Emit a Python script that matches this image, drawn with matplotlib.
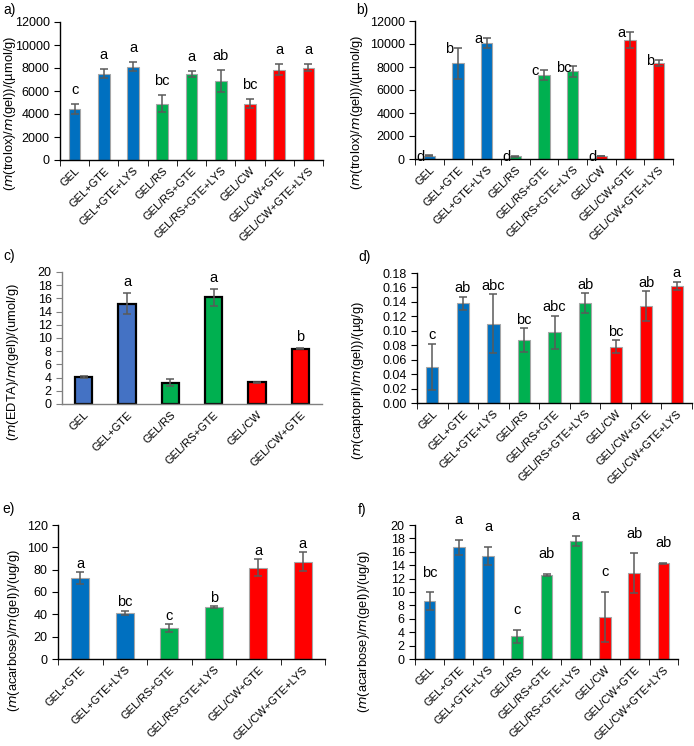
import matplotlib
matplotlib.use("Agg")
import matplotlib.pyplot as plt
from matplotlib.ticker import FormatStrFormatter

plt.rcParams["font.family"] = ["Liberation Sans", "DejaVu Sans"]

# --- Donnees ---
labels_9 = ["GEL", "GEL+GTE", "GEL+GTE+LYS", "GEL/RS", "GEL/RS+GTE",
            "GEL/RS+GTE+LYS", "GEL/CW", "GEL/CW+GTE", "GEL/CW+GTE+LYS"]
labels_6c = ["GEL", "GEL+GTE", "GEL/RS", "GEL/RS+GTE", "GEL/CW", "GEL/CW+GTE"]
labels_6e = ["GEL+GTE", "GEL+GTE+LYS", "GEL/RS+GTE", "GEL/RS+GTE+LYS",
             "GEL/CW+GTE", "GEL/CW+GTE+LYS"]

a_vals = [4420, 7510, 8120, 4910, 7490, 6880, 4880, 7860, 8030]
a_err = [430, 380, 400, 750, 260, 950, 400, 480, 290]
a_let = ["c", "a", "a", "bc", "a", "ab", "bc", "a", "a"]

b_vals = [280, 8310, 10100, 220, 7300, 7610, 260, 10330, 8360]
b_err = [40, 1350, 430, 30, 450, 460, 40, 720, 290]
b_let = ["d", "b", "a", "d", "c", "bc", "d", "a", "b"]

c_vals = [4.08, 15.2, 3.22, 16.17, 3.30, 8.36]
c_err = [0.12, 1.6, 0.5, 1.3, 0.1, 0.1]
c_let = ["", "a", "", "a", "", "b"]

d_vals = [0.050, 0.138, 0.110, 0.087, 0.098, 0.138, 0.078, 0.134, 0.162]
d_err = [0.032, 0.009, 0.041, 0.017, 0.023, 0.014, 0.009, 0.021, 0.006]
d_let = ["c", "ab", "abc", "bc", "abc", "ab", "bc", "ab", "a"]

e_vals = [72.4, 41.1, 27.7, 46.5, 81.9, 87.3]
e_err = [5.3, 2.1, 3.6, 0.8, 7.4, 8.6]
e_let = ["a", "bc", "c", "b", "a", "a"]

f_vals = [8.66, 16.67, 15.37, 3.38, 12.54, 17.6, 6.27, 12.79, 14.28]
f_err = [1.3, 1.1, 1.35, 1.0, 0.2, 0.8, 3.78, 3.0, 0.1]
f_let = ["bc", "a", "a", "c", "ab", "a", "c", "ab", "ab"]

BLUE, GREEN, RED = "#0070C0", "#00B050", "#FF0000"
colors_9 = [BLUE] * 3 + [GREEN] * 3 + [RED] * 3
colors_6e = [BLUE] * 2 + [GREEN] * 2 + [RED] * 2
colors_6c = ["#4472C4", "#4472C4", GREEN, GREEN, RED, RED]

W, H = 694, 746
fig = plt.figure(figsize=(W / 100, H / 100), dpi=100)


def add_axes(left, right, top, bottom):
    return fig.add_axes([left / W, 1 - bottom / H, (right - left) / W, (bottom - top) / H])


def panel(ax, labels, vals, err, letters, colors, ymax, ystep, ylabel, tag, tag_xy,
          ylab_xy, fmt=None, edge="#A6A6A6", edge_lw=0.8, letter_dx=0.0,
          letter_pad=3, xticks=True, spine_col="#000000"):
    n = len(labels)
    x = list(range(n))
    ax.bar(x, vals, width=0.4, color=colors, edgecolor=edge, linewidth=edge_lw, zorder=2)
    ax.errorbar(x, vals, yerr=err, fmt="none", ecolor="#5A5A5A", elinewidth=1.1,
                capsize=3, capthick=1.1, zorder=3)
    for xi, v, e, t in zip(x, vals, err, letters):
        if t:
            ax.annotate(t, (xi + letter_dx, v + e), xytext=(0, letter_pad),
                        textcoords="offset points", ha="center", va="bottom", fontsize=10.5)
    ax.set_xlim(-0.5, n - 0.5)
    ax.set_ylim(0, ymax)
    ax.set_yticks([i * ystep for i in range(int(round(ymax / ystep)) + 1)])
    if fmt:
        ax.yaxis.set_major_formatter(FormatStrFormatter(fmt))
    ax.set_xticks(x)
    ax.set_xticklabels(labels, rotation=45, ha="right", rotation_mode="anchor", fontsize=8)
    ax.tick_params(axis="x", length=0, pad=4)
    if xticks:
        ax.set_xticks([i - 0.5 for i in range(n + 1)], minor=True)
        ax.tick_params(axis="x", which="minor", length=4, direction="out", color=spine_col)
    ax.tick_params(axis="y", labelsize=9, length=4, direction="out", color=spine_col)
    for s in ["top", "right"]:
        ax.spines[s].set_visible(False)
    for s in ["left", "bottom"]:
        ax.spines[s].set_color(spine_col)
        ax.spines[s].set_linewidth(1.0)
    fig.text(ylab_xy[0] / W, 1 - ylab_xy[1] / H, ylabel, rotation=90,
             ha="center", va="center", fontsize=9.3)
    fig.text(tag_xy[0] / W, 1 - tag_xy[1] / H, tag, fontsize=10, ha="left", va="center")


ax_a = add_axes(60, 323, 22, 160)
panel(ax_a, labels_9, a_vals, a_err, a_let, colors_9, 12000, 2000,
      r"($\it{m}$(trolox)/$\it{m}$(gel))/(µmol/g)", "a)", (3, 10), (10, 113),
      letter_pad=5)

ax_b = add_axes(415, 673, 21, 159)
panel(ax_b, labels_9, b_vals, b_err, b_let, colors_9, 12000, 2000,
      r"($\it{m}$(trolox)/$\it{m}$(gel))/(µmol/g)", "b)", (356, 10), (357, 112),
      letter_dx=-0.3, letter_pad=-6)

ax_c = add_axes(62, 322, 272, 404)
panel(ax_c, labels_6c, c_vals, c_err, c_let, colors_6c, 20, 2,
      r"($\it{m}$(EDTA)/$\it{m}$(gel))/(umol/g)", "c)", (3, 256), (13, 362),
      edge="#000000", edge_lw=1.6, xticks=False, spine_col="#808080")

ax_d = add_axes(417, 692, 273, 403)
panel(ax_d, labels_9, d_vals, d_err, d_let, colors_9, 0.18, 0.02,
      r"($\it{m}$(captopril)/$\it{m}$(gel))/(µg/g)", "d)", (358, 257), (358, 381),
      fmt="%.2f", letter_pad=1)

ax_e = add_axes(58, 325, 525, 659)
panel(ax_e, labels_6e, e_vals, e_err, e_let, colors_6e, 120, 20,
      r"($\it{m}$(acarbose)/$\it{m}$(gel))/(ug/g)", "e)", (2, 509), (14, 630),
      letter_pad=1)

ax_f = add_axes(415, 678, 525, 659)
panel(ax_f, labels_9, f_vals, f_err, f_let, colors_9, 20, 2,
      r"($\it{m}$(acarbose)/$\it{m}$(gel))/(ug/g)", "f)", (358, 510), (364, 631),
      letter_pad=9)

fig.savefig("out.png", dpi=100)
